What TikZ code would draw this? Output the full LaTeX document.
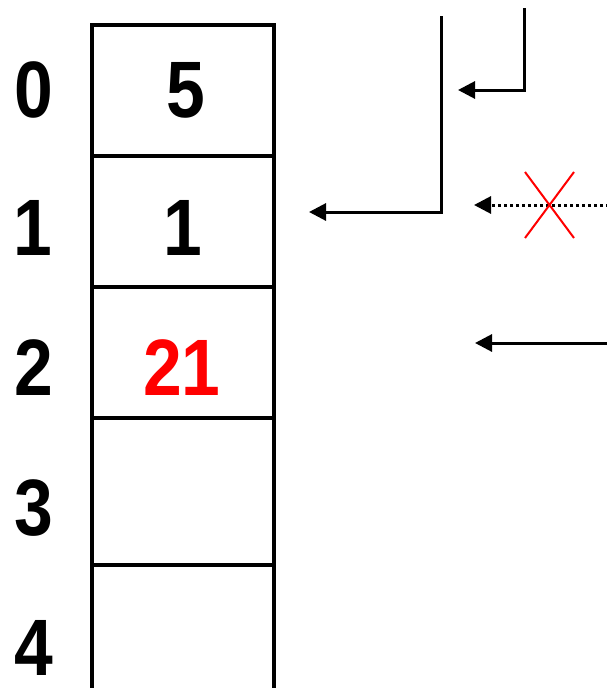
\documentclass[tikz,border=0pt]{standalone}
\usepackage{fontspec}
\setmainfont{Liberation Sans}
\usetikzlibrary{arrows.meta}
\newcommand{\narrowtxt}[1]{\scalebox{0.87}[1]{#1}}
\begin{document}
\begin{tikzpicture}[x=1pt,y=-1pt,
  big/.style={font=\fontsize{80}{80}\selectfont\bfseries, inner sep=0pt, anchor=base},
  cellline/.style={line width=3.2pt},
  ptr/.style={line width=3pt, -{Triangle[length=17pt,width=17pt]}},
  dotptr/.style={line width=3pt, dash pattern=on 3pt off 3pt, -{Triangle[length=17pt,width=17pt]}}]
\useasboundingbox (0,0) rectangle (606,688);
% array
\draw[cellline] (92,690) -- (92,25) -- (274,25) -- (274,690);
\draw[cellline] (92,156) -- (274,156);
\draw[cellline] (92,287) -- (274,287);
\draw[cellline] (92,418) -- (274,418);
\draw[cellline] (92,565) -- (274,565);
% indices
\node[big] (i0) at (34,117) {\narrowtxt{0}};
\node[big] (i1) at (33,255) {\narrowtxt{1}};
\node[big] (i2) at (34,395) {\narrowtxt{2}};
\node[big] (i3) at (34,535) {\narrowtxt{3}};
\node[big] (i4) at (34,675) {\narrowtxt{4}};
% values
\node[big] (v0) at (186,117) {\narrowtxt{5}};
\node[big] (v1) at (183,255) {\narrowtxt{1}};
\node[big, text=red] (v2) at (182,395) {\narrowtxt{21}};
% pointer arrows
\coordinate (a0) at (524,8);
\coordinate (a1) at (458,90);
\draw[ptr] (a0) |- (a1);
\coordinate (b0) at (441,16);
\coordinate (b1) at (309,212);
\draw[ptr] (b0) |- (b1);
\coordinate (c0) at (609,205);
\coordinate (c1) at (474,205);
\draw[dotptr] (c0) -- (c1);
\coordinate (d0) at (609,343);
\coordinate (d1) at (475,343);
\draw[ptr] (d0) -- (d1);
% red cross
\draw[red, line width=2pt] (525,172) -- (574,238) (574,172) -- (525,238);
\end{tikzpicture}
\end{document}
